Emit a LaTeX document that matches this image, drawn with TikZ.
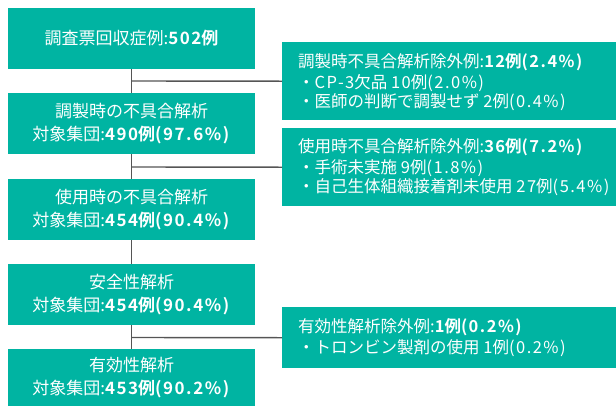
\documentclass[tikz,border=0pt]{standalone}
\usepackage{fontspec}
\setmainfont{Noto Sans CJK JP}[BoldFont={Noto Sans CJK JP Bold}]
\newfontfamily\numf{Noto Sans CJK JP}[BoldFont={Noto Sans CJK JP Bold},LetterSpace=9]
\newcommand{\nm}[1]{{\numf #1}}
\definecolor{teal1}{HTML}{00B4A2}
\definecolor{line1}{HTML}{555555}
\begin{document}
\begin{tikzpicture}[x=1pt,y=-1pt,
  mainbox/.style={fill=teal1,text=white,minimum width=247pt,inner sep=0pt,align=center,font=\fontsize{17}{23}\selectfont},
  sidebox/.style={fill=teal1,text=white,minimum width=334pt,inner sep=0pt,anchor=north west},
  sidetext/.style={text=white,anchor=west,inner sep=0pt,font=\fontsize{16.5}{20}\selectfont},
  conn/.style={draw=line1,line width=1.4pt}]
\useasboundingbox (0,0) rectangle (616,405);
\node[mainbox,minimum height=61pt] (b1) at (131.5,38.5) {調査票回収症例:\textbf{\nm{502}例}};
\node[mainbox,minimum height=61pt] (b2) at (131.5,123.5) {調製時の不具合解析\\対象集団:\textbf{\nm{490}例\nm{(97.6\%)}}};
\node[mainbox,minimum height=61pt] (b3) at (131.5,209.5) {使用時の不具合解析\\対象集団:\textbf{\nm{454}例\nm{(90.4\%)}}};
\node[mainbox,minimum height=61pt] (b4) at (131.5,294.5) {安全性解析\\対象集団:\textbf{\nm{454}例\nm{(90.4\%)}}};
\node[mainbox,minimum height=58pt] (b5) at (131.5,378) {有効性解析\\対象集団:\textbf{\nm{453}例\nm{(90.2\%)}}};
\node[sidebox,minimum height=78pt] (s1) at (282,42) {};
\node[sidebox,minimum height=78pt] (s2) at (282,128) {};
\node[sidebox,minimum height=61pt] (s3) at (282,307) {};
\node[sidetext] (t1) at (298,62) {調製時不具合解析除外例:\textbf{\nm{12}例\nm{(2.4\%)}}};
\node[sidetext] (t1a) at (298,83) {・\nm{CP-3}欠品 \nm{10}例\nm{(2.0\%)}};
\node[sidetext] (t1b) at (298,102) {・医師の判断で調製せず \nm{2}例\nm{(0.4\%)}};
\node[sidetext] (t2) at (298,147) {使用時不具合解析除外例:\textbf{\nm{36}例\nm{(7.2\%)}}};
\node[sidetext] (t2a) at (298,168) {・手術未実施 \nm{9}例\nm{(1.8\%)}};
\node[sidetext] (t2b) at (298,187) {・自己生体組織接着剤未使用 \nm{27}例\nm{(5.4\%)}};
\node[sidetext] (t3) at (298,327) {有効性解析除外例:\textbf{\nm{1}例\nm{(0.2\%)}}};
\node[sidetext] (t3a) at (298,348) {・トロンビン製剤の使用 \nm{1}例\nm{(0.2\%)}};
\draw[conn] (b1.south) -- (b2.north);
\draw[conn] (b2.south) -- (b3.north);
\draw[conn] (b3.south) -- (b4.north);
\draw[conn] (b4.south) -- (b5.north);
\coordinate (j1) at (131.5,81);
\coordinate (j2) at (131.5,167);
\coordinate (j3) at (131.5,337.5);
\draw[conn] (j1) -- (s1.west);
\draw[conn] (j2) -- (s2.west);
\draw[conn] (j3) -- (s3.west);
\end{tikzpicture}
\end{document}
